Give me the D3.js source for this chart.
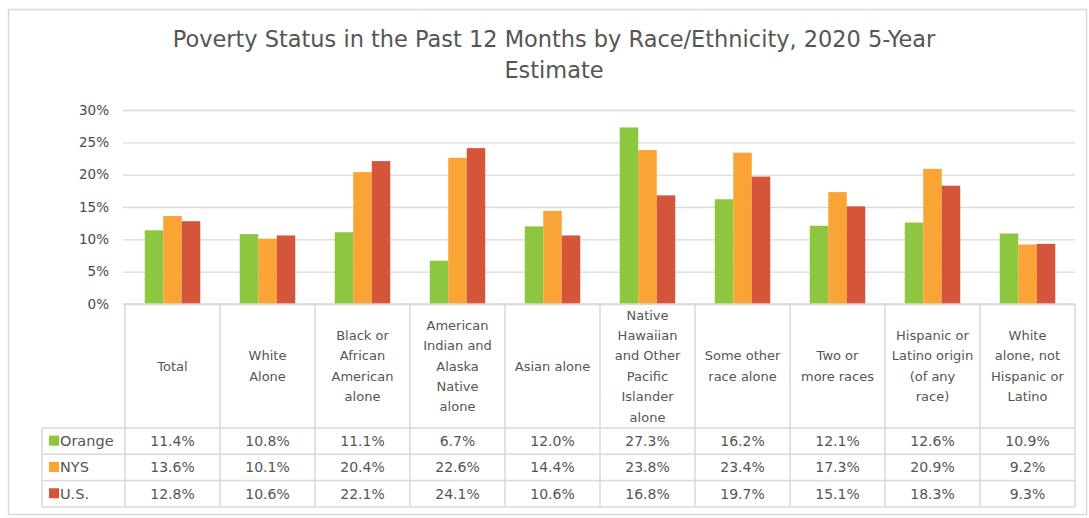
<!DOCTYPE html>
<html><head><meta charset="utf-8">
<script src="https://cdn.jsdelivr.net/npm/d3@7"></script>
<style>
html,body{margin:0;padding:0;background:#fff;}
svg{display:block;font-family:"DejaVu Sans",sans-serif;}
</style></head>
<body>
<svg id="chart" width="1089" height="518"></svg>
<script>
const titleLines = ["Poverty Status in the Past 12 Months by Race/Ethnicity, 2020 5-Year", "Estimate"];
const categories = ["Total", "White Alone", "Black or African American alone", "American Indian and Alaska Native alone", "Asian alone", "Native Hawaiian and Other Pacific Islander alone", "Some other race alone", "Two or more races", "Hispanic or Latino origin (of any race)", "White alone, not Hispanic or Latino"];
const headerLines = [["Total"], ["White", "Alone"], ["Black or", "African", "American", "alone"], ["American", "Indian and", "Alaska", "Native", "alone"], ["Asian alone"], ["Native", "Hawaiian", "and Other", "Pacific", "Islander", "alone"], ["Some other", "race alone"], ["Two or", "more races"], ["Hispanic or", "Latino origin", "(of any", "race)"], ["White", "alone, not", "Hispanic or", "Latino"]];
const seriesNames = ["Orange", "NYS", "U.S."];
const orangeValues = [11.4, 10.8, 11.1, 6.7, 12.0, 27.3, 16.2, 12.1, 12.6, 10.9];
const nysValues = [13.6, 10.1, 20.4, 22.6, 14.4, 23.8, 23.4, 17.3, 20.9, 9.2];
const usValues = [12.8, 10.6, 22.1, 24.1, 10.6, 16.8, 19.7, 15.1, 18.3, 9.3];
const yTicks = [0, 5, 10, 15, 20, 25, 30];
const colors = ["#8dc63f", "#f9a434", "#d4553a"];

const series = [orangeValues, nysValues, usValues];
const svg = d3.select("#chart");
const textColor = "#555555";
const lineColor = "#d9d9d9";

// outer frame
svg.append("rect").attr("x", 8.5).attr("y", 9.5).attr("width", 1078).attr("height", 505)
  .attr("fill", "#fff").attr("stroke", lineColor).attr("stroke-width", 1.5);

// title
const title = svg.append("text").attr("text-anchor", "middle").attr("fill", textColor)
  .attr("font-size", 21);
titleLines.forEach((t, i) => {
  title.append("tspan").attr("x", 554).attr("y", 47 + i * 31).text(t);
});
const t0 = title.select("tspan").node();
const w0 = t0.getComputedTextLength();
title.attr("font-size", Math.min(24, 21 * 763 / w0));

const pi = 1 - 55.5 / 95;
const x = d3.scaleBand().domain(categories).range([125, 1075]).paddingInner(pi).paddingOuter(pi / 2);
const x1 = d3.scaleBand().domain(seriesNames).range([0, x.bandwidth()]);
const y = d3.scaleLinear().domain([0, 30]).range([304, 110]);

// gridlines + y labels
const yAxis = d3.axisLeft(y).tickValues(yTicks).tickFormat(d => d + "%").tickSize(-(1075 - 123)).tickPadding(14);
const gy = svg.append("g").attr("transform", "translate(123,0)").call(yAxis);
gy.select(".domain").remove();
gy.selectAll(".tick line").attr("stroke", lineColor).attr("stroke-width", 1.3);
gy.selectAll(".tick text").attr("fill", "#4a4a4a").attr("font-size", 13.5)
  .attr("font-family", "DejaVu Sans, sans-serif");

// bars
seriesNames.forEach((s, si) => {
  svg.append("g").selectAll("rect").data(categories).join("rect")
    .attr("x", c => x(c) + x1(s))
    .attr("y", (c, i) => y(series[si][i]))
    .attr("width", x1.bandwidth())
    .attr("height", (c, i) => y(0) - y(series[si][i]))
    .attr("fill", colors[si]);
});

// data table
const step = x.step();
const colLeft = c => x(c) - step * pi / 2;
const tableTop = 304, headerBottom = 428, rowH = 26.3;
const tableRight = 1075, legendLeft = 42;
const tg = svg.append("g");
const ln = (x1_, y1_, x2_, y2_) => tg.append("line").attr("x1", x1_).attr("y1", y1_).attr("x2", x2_).attr("y2", y2_)
  .attr("stroke", lineColor).attr("stroke-width", 1.5);
ln(123, tableTop, tableRight, tableTop);
for (let r = 0; r <= 3; r++) ln(legendLeft, headerBottom + r * rowH, tableRight, headerBottom + r * rowH);
categories.forEach(c => ln(colLeft(c), tableTop, colLeft(c), headerBottom + 3 * rowH));
ln(tableRight, tableTop, tableRight, headerBottom + 3 * rowH);
ln(legendLeft, headerBottom, legendLeft, headerBottom + 3 * rowH);

// header text
const headMid = (tableTop + headerBottom) / 2;
categories.forEach((c, i) => {
  const lines = headerLines[i];
  const cx = colLeft(c) + step / 2;
  const lh = 20.4;
  const t = tg.append("text").attr("text-anchor", "middle").attr("fill", textColor).attr("font-size", 13);
  lines.forEach((l, j) => {
    t.append("tspan").attr("x", cx).attr("y", headMid + (j - (lines.length - 1) / 2) * lh + 4.5).text(l);
  });
});

// rows
seriesNames.forEach((s, si) => {
  const cy = headerBottom + si * rowH + rowH / 2;
  tg.append("rect").attr("x", 49).attr("y", cy - 5.5).attr("width", 10).attr("height", 10).attr("fill", colors[si]);
  tg.append("text").attr("x", 60).attr("y", cy + 5).attr("fill", textColor).attr("font-size", 14.5).text(s);
  categories.forEach((c, i) => {
    tg.append("text").attr("x", colLeft(c) + step / 2).attr("y", cy + 5).attr("text-anchor", "middle")
      .attr("fill", textColor).attr("font-size", 14).text(series[si][i].toFixed(1) + "%");
  });
});
</script>
</body></html>
